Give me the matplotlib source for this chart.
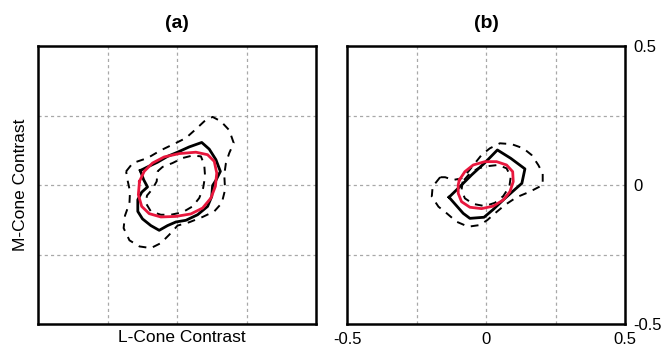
import matplotlib
matplotlib.use("Agg")
import matplotlib.pyplot as plt
import numpy as np

# ---------------- data (L-cone contrast, M-cone contrast) ----------------
# Panel (a)
a_red_x = [-0.135, -0.118, -0.088, -0.046, 0.008, 0.068, 0.110, 0.134, 0.143, 0.138,
           0.122, 0.092, 0.050, -0.004, -0.058, -0.100, -0.127, -0.139]
a_red_y = [0.013, 0.049, 0.079, 0.101, 0.113, 0.118, 0.109, 0.085, 0.043, -0.005,
           -0.047, -0.083, -0.104, -0.113, -0.115, -0.103, -0.077, -0.035]

a_solid_x = [-0.132, -0.106, -0.070, -0.034, 0.002, 0.044, 0.089, 0.116, 0.140, 0.156,
             0.140, 0.128, 0.125, 0.110, 0.074, 0.032, -0.004, -0.034, -0.064, -0.094,
             -0.124, -0.141, -0.141, -0.127, -0.106, -0.120]
a_solid_y = [0.052, 0.065, 0.082, 0.103, 0.118, 0.137, 0.153, 0.129, 0.091, 0.049,
             0.017, -0.002, -0.041, -0.077, -0.107, -0.127, -0.133, -0.146, -0.163, -0.146,
             -0.122, -0.095, -0.053, -0.026, -0.007, 0.019]

a_outer_x = [-0.183, -0.159, -0.106, -0.058, -0.004, 0.032, 0.068, 0.098, 0.128, 0.158,
             0.188, 0.204, 0.188, 0.176, 0.170, 0.173, 0.161, 0.134, 0.092, 0.044,
             0.002, -0.028, -0.058, -0.094, -0.135, -0.171, -0.192, -0.187, -0.171,
             -0.169, -0.177]
a_outer_y = [0.049, 0.079, 0.097, 0.125, 0.151, 0.169, 0.201, 0.229, 0.245, 0.229,
             0.197, 0.151, 0.115, 0.079, 0.037, -0.017, -0.065, -0.095, -0.115, -0.134,
             -0.146, -0.179, -0.209, -0.227, -0.221, -0.199, -0.155, -0.110, -0.065,
             -0.023, 0.013]

a_inner_x = [-0.070, -0.052, -0.016, 0.020, 0.056, 0.086, 0.098, 0.101, 0.094, 0.080,
             0.056, 0.020, -0.022, -0.058, -0.094, -0.112, -0.108, -0.088, -0.073]
a_inner_y = [0.049, 0.065, 0.079, 0.097, 0.106, 0.103, 0.073, 0.031, -0.011, -0.047,
             -0.077, -0.098, -0.107, -0.107, -0.095, -0.065, -0.038, -0.014, 0.013]

# Panel (b)
b_red_x = [-0.096, -0.076, -0.046, -0.004, 0.038, 0.074, 0.096, 0.098, 0.086, 0.062,
           0.026, -0.016, -0.058, -0.088, -0.100, -0.100]
b_red_y = [0.018, 0.048, 0.072, 0.084, 0.084, 0.072, 0.048, 0.012, -0.024, -0.054,
           -0.076, -0.085, -0.080, -0.060, -0.030, 0.000]

b_solid_x = [-0.133, -0.094, -0.052, -0.004, 0.041, 0.089, 0.140, 0.129, 0.113, 0.068,
             0.026, -0.007, -0.058, -0.082]
b_solid_y = [-0.044, -0.006, 0.036, 0.080, 0.126, 0.096, 0.058, 0.006, -0.008, -0.048,
             -0.088, -0.116, -0.120, -0.102]

b_outer_x = [-0.165, -0.192, -0.195, -0.171, -0.141, -0.106, -0.064, -0.022, 0.005, 0.032,
             0.068, 0.110, 0.158, 0.204, 0.204, 0.188, 0.164, 0.134, 0.092, 0.050,
             0.014, -0.016, -0.040, -0.064, -0.088, -0.118, -0.147]
b_outer_y = [0.028, -0.006, -0.042, -0.078, -0.102, -0.132, -0.150, -0.144, -0.126, -0.102,
             -0.072, -0.044, -0.024, 0.000, 0.042, 0.072, 0.108, 0.132, 0.147, 0.150,
             0.132, 0.108, 0.078, 0.048, 0.024, 0.018, 0.028]

b_inner_x = [-0.084, -0.088, -0.076, -0.046, -0.004, 0.032, 0.062, 0.084, 0.089, 0.074,
             0.044, 0.008, -0.028, -0.058]
b_inner_y = [0.012, -0.018, -0.048, -0.068, -0.076, -0.064, -0.040, -0.006, 0.030, 0.060,
             0.072, 0.068, 0.060, 0.042]

panel_titles = ["(a)", "(b)"]
tick_values = [-0.5, 0, 0.5]
tick_labels = ["-0.5", "0", "0.5"]
grid_values = [-0.25, 0, 0.25]

# ---------------- drawing ----------------
plt.rcParams['font.family'] = ['Liberation Sans', 'DejaVu Sans']

W, H = 665, 349
fig = plt.figure(figsize=(W / 100, H / 100), dpi=100)

def closed(xs, ys):
    return list(xs) + [xs[0]], list(ys) + [ys[0]]

ax_a = fig.add_axes([38 / W, (H - 324) / H, 278 / W, 278 / H])
ax_b = fig.add_axes([347 / W, (H - 324) / H, 278 / W, 278 / H])

panels = [
    (ax_a, (a_outer_x, a_outer_y), (a_inner_x, a_inner_y), (a_solid_x, a_solid_y), (a_red_x, a_red_y)),
    (ax_b, (b_outer_x, b_outer_y), (b_inner_x, b_inner_y), (b_solid_x, b_solid_y), (b_red_x, b_red_y)),
]

dash = (0, (4, 3.5))
for i, (ax, outer, inner, solid, red) in enumerate(panels):
    ax.set_xlim(-0.5, 0.5)
    ax.set_ylim(-0.5, 0.5)
    for g in grid_values:
        ax.axvline(g, color='#a8a8a8', lw=0.9, ls=(0, (2.5, 2.5)), zorder=0)
        ax.axhline(g, color='#a8a8a8', lw=0.9, ls=(0, (2.5, 2.5)), zorder=0)
    ax.plot(*closed(*outer), color='black', lw=1.4, ls=dash)
    ax.plot(*closed(*inner), color='black', lw=1.4, ls=dash)
    ax.plot(*closed(*solid), color='black', lw=2.0)
    ax.plot(*closed(*red), color='#e8173d', lw=2.0)
    for s in ax.spines.values():
        s.set_linewidth(1.8)
    ax.text(0.5, 1 + 22 / 278, panel_titles[i], transform=ax.transAxes,
            ha='center', va='center', fontsize=14, fontweight='bold')

ax_a.set_xticks([])
ax_a.set_yticks([])
ax_a.set_xlabel("L-Cone Contrast", fontsize=12.5)
ax_a.xaxis.set_label_coords((182 - 38) / 278, -14 / 278, transform=ax_a.transAxes)
ax_a.set_ylabel("M-Cone Contrast", fontsize=12.5)
ax_a.yaxis.set_label_coords(-17 / 278, 0.5, transform=ax_a.transAxes)
ax_a.xaxis.label.set_va('center')
ax_a.yaxis.label.set_va('center')

ax_b.set_xticks(tick_values)
ax_b.set_xticklabels(tick_labels, fontsize=12)
ax_b.set_yticks(tick_values)
ax_b.set_yticklabels(tick_labels, fontsize=12)
ax_b.yaxis.tick_right()
ax_b.tick_params(length=0, pad=6)

fig.savefig("out.png", dpi=100)
